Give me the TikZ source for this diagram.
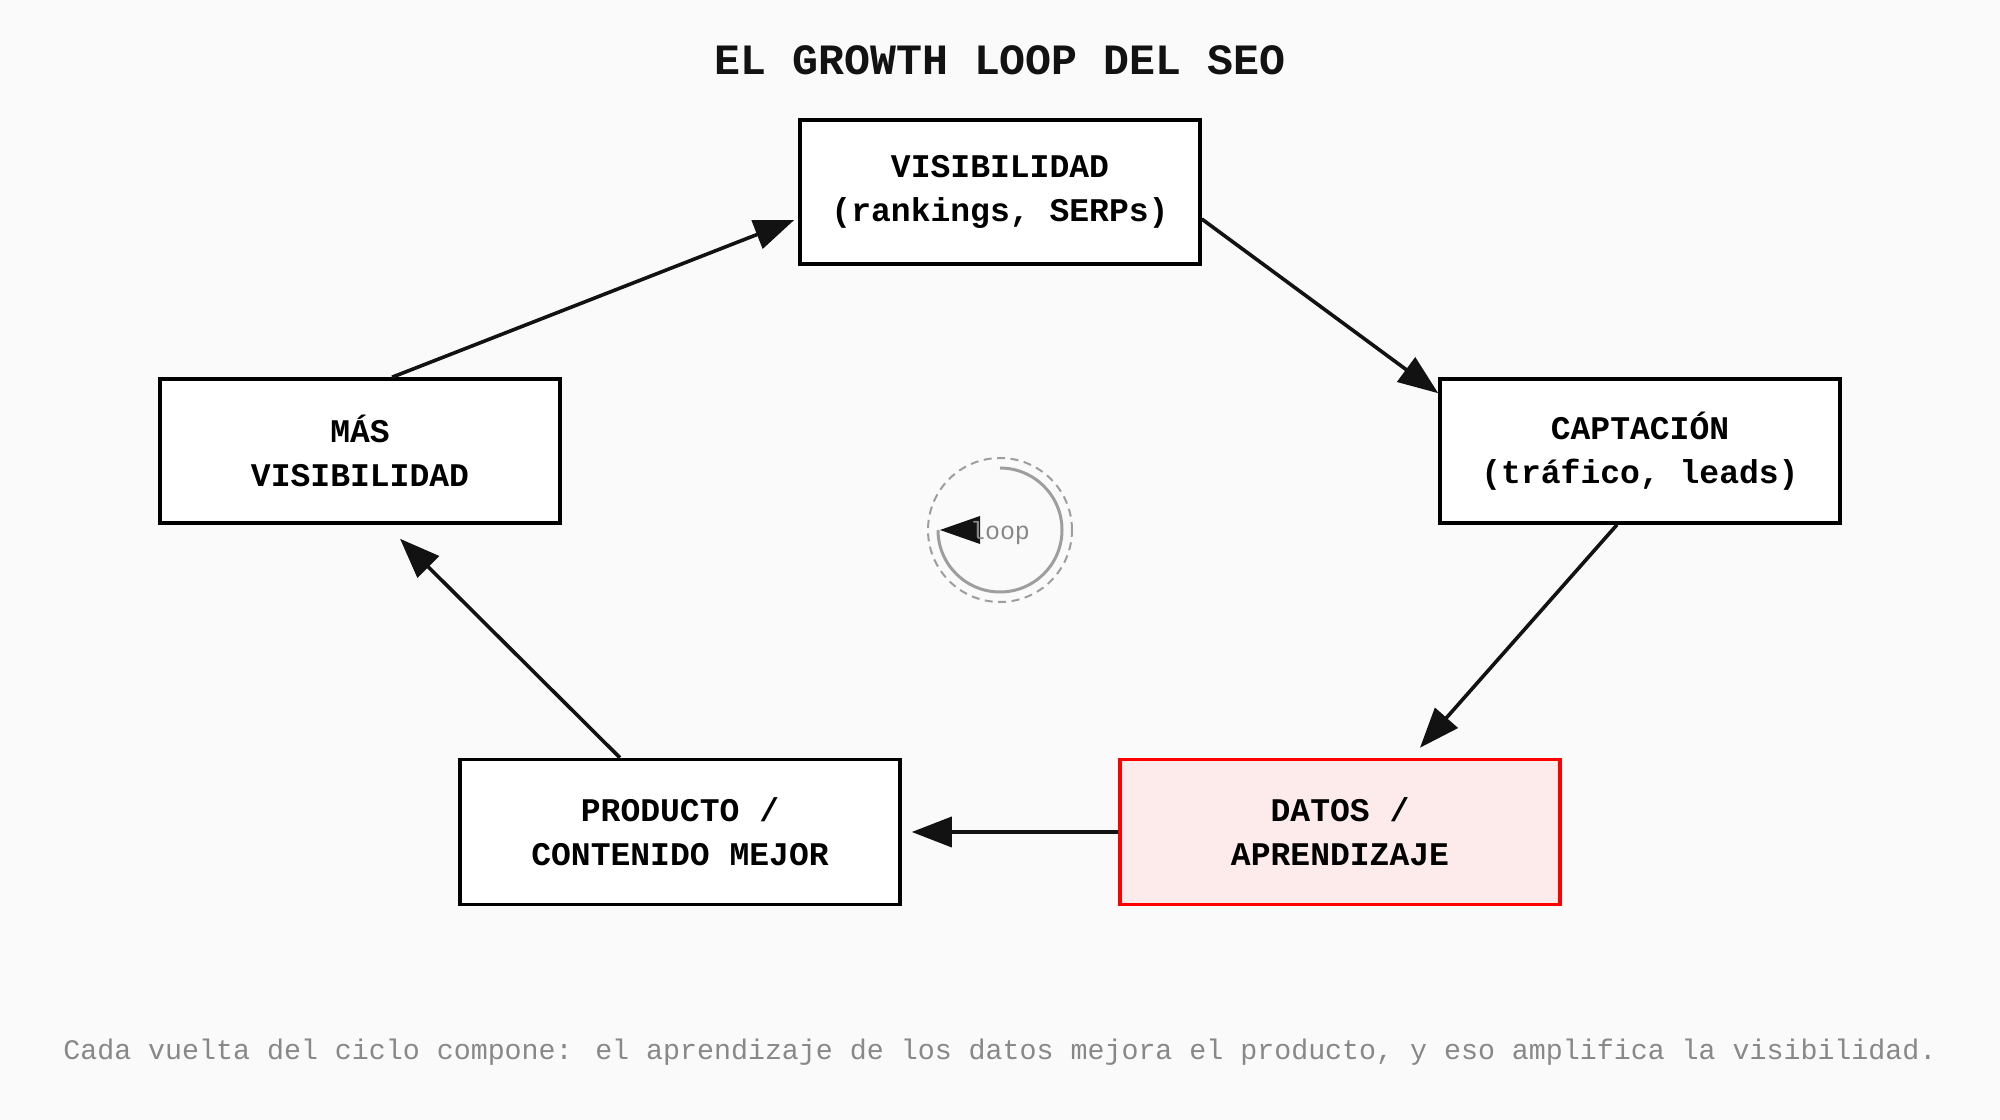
\documentclass[tikz,border=0pt]{standalone}
\usepackage{fontspec}
\setmainfont{Liberation Mono}
\usetikzlibrary{arrows.meta}

\begin{document}
\begin{tikzpicture}[line join=miter,
  stage/.style={draw=black, line width=0.035cm, fill=white, inner sep=0pt,
    minimum width=4cm, minimum height=1.44cm, align=center,
    font=\fontsize{9.4}{12.5}\selectfont\bfseries},
  widestage/.style={stage, minimum width=4.4cm, minimum height=1.45cm},
  flow/.style={line width=0.036cm, draw=black!93, -{Triangle[length=0.4cm,width=0.3cm]}}]
  \definecolor{pagebg}{HTML}{FAFAFA}
  \definecolor{datared}{HTML}{FF0000}
  \definecolor{datafill}{HTML}{FDEBEB}
  \definecolor{loopgray}{HTML}{9E9E9E}
  \definecolor{notegray}{HTML}{888888}
  % page
  \fill[pagebg] (0,0) rectangle (20,11.2);
  \useasboundingbox (0,0) rectangle (20,11.2);
  \node (title) at (10,10.60) {\fontsize{12.3}{14}\selectfont\bfseries\color{black!93}EL GROWTH LOOP DEL SEO};

  % stages of the loop
  \node[stage] (vis) at (10,9.28) {VISIBILIDAD\\(rankings, SERPs)};
  \node[stage] (cap) at (16.4,6.69) {CAPTACIÓN\\(tráfico, leads)};
  \node[widestage, draw=datared, fill=datafill] (dat) at (13.4,2.88) {DATOS /\\APRENDIZAJE};
  \node[widestage] (pro) at (6.8,2.88) {PRODUCTO /\\CONTENIDO MEJOR};
  \node[stage] (mas) at (3.6,6.69) {MÁS\\VISIBILIDAD};

  % connectors
  \draw[flow] ([xshift=0.32cm]mas.north) -- ([xshift=-0.04cm,yshift=-0.28cm]vis.west);
  \draw[flow] ([yshift=-0.27cm]vis.east) -- ([yshift=-0.16cm]cap.north west);
  \draw[flow] ([xshift=-0.23cm]cap.south) -- ([xshift=0.8cm,yshift=0.1cm]dat.north);
  \draw[flow] (dat.west) -- ([xshift=0.1cm]pro.east);
  \draw[flow] ([xshift=-0.6cm]pro.north) -- ([xshift=0.4cm,yshift=-0.14cm]mas.south);

  % loop badge
  \coordinate (L) at (10,5.90);
  \draw[loopgray, line width=0.02cm, dash pattern=on 0.08cm off 0.055cm] (L) circle (0.72);
  \draw[loopgray, line width=0.03cm] ([shift={(90:0.62)}]L) arc[start angle=90, end angle=-180, radius=0.62];
  \fill[black!93] ([shift={(-0.6,0)}]L) -- ([shift={(-0.2,0.14)}]L) -- ([shift={(-0.2,-0.14)}]L) -- cycle;
  \node[notegray, font=\fontsize{7.1}{8}\selectfont] (looptext) at ([yshift=-0.03cm]L) {loop};

  \node[notegray, font=\fontsize{8.05}{10}\selectfont] (note) at (10,0.68)
    {Cada vuelta del ciclo compone: el aprendizaje de los datos mejora el producto, y eso amplifica la visibilidad.};
\end{tikzpicture}
\end{document}
